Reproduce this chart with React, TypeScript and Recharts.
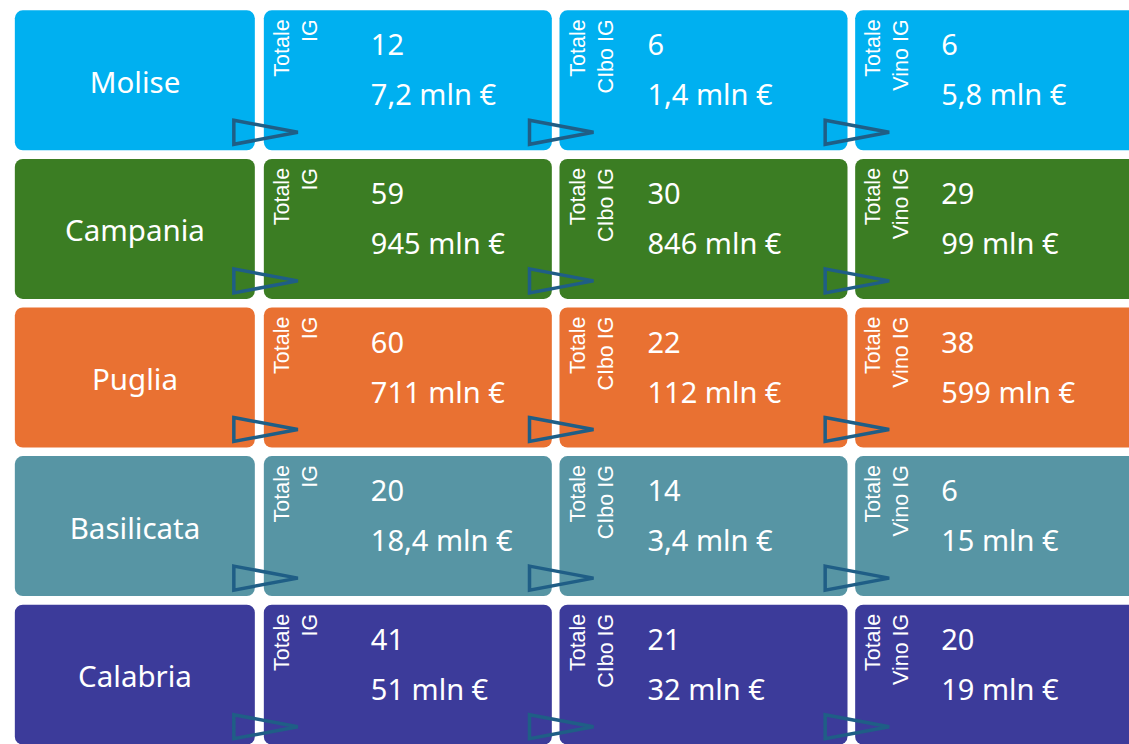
import { ScatterChart, Scatter, XAxis, YAxis } from 'recharts';

const regioni = ['Molise', 'Campania', 'Puglia', 'Basilicata', 'Calabria'];
const colonne = [['Totale', 'IG'], ['Totale', 'CIbo IG'], ['Totale', 'Vino IG']];
const totaleIG = [12, 59, 60, 20, 41];
const valoreIG = ['7,2', '945', '711', '18,4', '51'];
const totaleCibo = [6, 30, 22, 14, 21];
const valoreCibo = ['1,4', '846', '112', '3,4', '32'];
const totaleVino = [6, 29, 38, 6, 20];
const valoreVino = ['5,8', '99', '599', '15', '19'];

const coloriRegioni = ['#00B0F0', '#3B7D23', '#E97132', '#5795A4', '#3C3B9A'];
const FRECCIA = '#1F5E86';
const FONT = '"Noto Sans", sans-serif';
const FONT_VERT = '"Liberation Sans", Arial, sans-serif';
const BOX_W = 288;
const BOX_H = 140;
const offsetNumeri = [107, 88, 86];

const celle = regioni.flatMap((_, riga) => [
  { col: 0, riga, numero: totaleIG[riga], valore: valoreIG[riga] },
  { col: 1, riga, numero: totaleCibo[riga], valore: valoreCibo[riga] },
  { col: 2, riga, numero: totaleVino[riga], valore: valoreVino[riga] },
]);

// solo il nome: il riquadro colorato lo disegna la cella della prima colonna
const EtichettaRegione = (props: any) => {
  const { x, y, payload } = props;
  return (
    <text x={x - 125} y={y + 1} textAnchor="middle" dominantBaseline="central"
      fill="#fff" fontFamily={FONT} fontSize={29.5}>{regioni[payload.value]}</text>
  );
};

const Cella = (props: any) => {
  const { cx, cy, payload } = props;
  if (cx == null || cy == null) return null;
  const L = cx - BOX_W / 2;
  const T = cy - BOX_H / 2;
  const [r1, r2] = colonne[payload.col];
  const nx = L + offsetNumeri[payload.col];
  const colore = coloriRegioni[payload.riga];
  return (
    <g>
      {payload.col === 0 && (
        <rect x={L - 249} y={T} width={240} height={BOX_H} rx={8} fill={colore} />
      )}
      <rect x={L} y={T} width={BOX_W} height={BOX_H} rx={8} fill={colore} />
      <text transform={`translate(${L + 25},${T + 9}) rotate(-90)`} textAnchor="end"
        fill="#fff" fontFamily={FONT_VERT} fontSize={21.5}>{r1}</text>
      <text transform={`translate(${L + 53},${T + 9}) rotate(-90)`} textAnchor="end"
        fill="#fff" fontFamily={FONT_VERT} fontSize={21.5}>{r2}</text>
      <text x={nx} y={T + 45} fill="#fff" fontFamily={FONT} fontSize={29}>{payload.numero}</text>
      <text x={nx} y={T + 95} fill="#fff" fontFamily={FONT} fontSize={29}>{payload.valore} mln €</text>
      <polygon
        points={`${L - 30},${T + 110} ${L + 34},${T + 122} ${L - 30},${T + 134}`}
        fill="none" stroke={FRECCIA} strokeWidth={3.5} strokeLinejoin="miter" />
    </g>
  );
};

export default function App() {
  return (
    <div style={{ width: 1147, height: 749 }}>
      <style>{'body{margin:0;overflow:hidden;background:#fff}'}</style>
      <ScatterChart width={1147} height={749} margin={{ top: 6, right: 0, bottom: 0, left: 0 }}>
        <YAxis type="number" dataKey="riga" domain={[-0.5, 4.5]} ticks={[0, 1, 2, 3, 4]}
          reversed width={260} axisLine={false} tickLine={false} tickSize={0} tickMargin={0}
          interval={0} tick={<EtichettaRegione />} />
        <XAxis type="number" dataKey="col" domain={[-0.5, 2.5]} hide />
        <Scatter data={celle} shape={<Cella />} isAnimationActive={false} />
      </ScatterChart>
    </div>
  );
}
